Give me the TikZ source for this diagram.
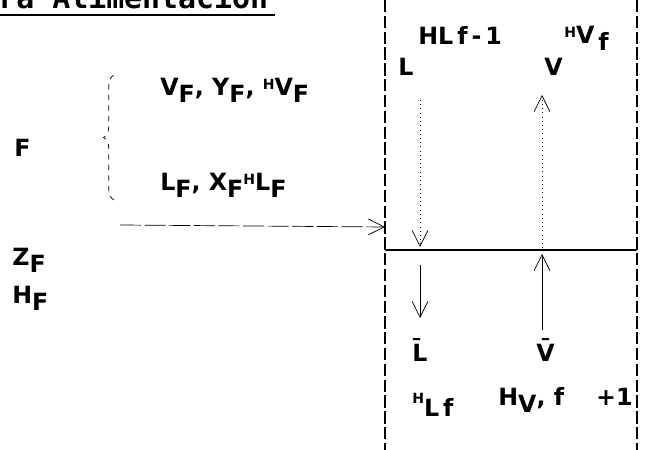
\documentclass[tikz,border=0pt]{standalone}
\usepackage{fontspec}
\setmainfont{DejaVu Sans}
\setmonofont{DejaVu Sans Mono}
\usepackage{tikz}
\usetikzlibrary{arrows.meta,positioning,calc,decorations.pathreplacing}

\newcommand{\dn}[1]{\raisebox{-0.55ex}{#1}}
\newcommand{\hi}[1]{\raisebox{0.45ex}{\footnotesize #1}}

\begin{document}
\begin{tikzpicture}[x=0.2mm, y=-0.2mm,
    lbl/.style={font=\bfseries\fontsize{13.5}{15}\selectfont, inner sep=0pt, anchor=west},
    flow/.style={thin, -{Straight Barb[length=9pt, width=9pt]}},
    wall/.style={thick, dash pattern=on 7pt off 2pt}]
    \useasboundingbox (0,0) rectangle (645,450);

    % title
    \node[anchor=base west, inner sep=0pt, font=\ttfamily\bfseries\fontsize{17}{19}\selectfont] (title) at (-2,9) {ra Alimentacion};
    \draw[thick] (0,15) -- (275,15);

    % column walls and tray
    \coordinate (wlt) at (385,0);
    \coordinate (wlb) at (385,450);
    \coordinate (wrt) at (637,0);
    \coordinate (wrb) at (637,450);
    \coordinate (trl) at (385,250);
    \coordinate (trr) at (637,250);
    \draw[wall] (wlt) -- (wlb);
    \draw[wall] (wrt) -- (wrb);
    \draw[thick] (trl) -- (trr);

    % feed
    \node[lbl] (feed) at (14,148) {F};
    \node[lbl] (vfeed) at (160,90) {V\dn{F}, Y\dn{F}, \hi{H}V\dn{F}};
    \node[lbl] (lfeed) at (160,185) {L\dn{F}, X\dn{F}\hi{H}L\dn{F}};
    \node[lbl] (zfeed) at (12,260) {Z\dn{F}};
    \node[lbl] (hfeed) at (12,298) {H\dn{F}};
    \draw[dashed, decorate, decoration={brace, amplitude=6pt}] (114,200) -- (114,75);
    \coordinate (fin) at (120,225);
    \coordinate (fout) at (385,227);
    \draw[flow, dashed, dash pattern=on 12pt off 2pt] (fin) -- (fout);

    % above the tray
    \node[lbl] (hlf1) at (418,35) {HL\,f\,-\,1};
    \node[lbl] (hvf) at (564,38) {\hi{H}V\,\dn{f}};
    \node[lbl] (lup) at (398,67) {L};
    \node[lbl] (vup) at (544,67) {V};
    \coordinate (la) at (420,100);
    \coordinate (lb) at (420,247);
    \coordinate (va) at (542,248);
    \coordinate (vb) at (542,95);
    \draw[flow, dotted] (la) -- (lb);
    \draw[flow, dotted] (va) -- (vb);

    % below the tray
    \coordinate (lc) at (420,265);
    \coordinate (ld) at (420,318);
    \coordinate (vc) at (542,330);
    \coordinate (vd) at (542,254);
    \draw[flow] (lc) -- (ld);
    \draw[flow] (vc) -- (vd);
    \node[lbl] (ldn) at (412,350) {\=L};
    \node[lbl] (vdn) at (536,350) {\=V};
    \node[lbl] (hlf) at (412,405) {\hi{H}\dn{L\,f}};
    \node[lbl] (hvf1) at (498,400) {H\dn{V}, f \quad+1};
  \end{tikzpicture}
\end{document}
